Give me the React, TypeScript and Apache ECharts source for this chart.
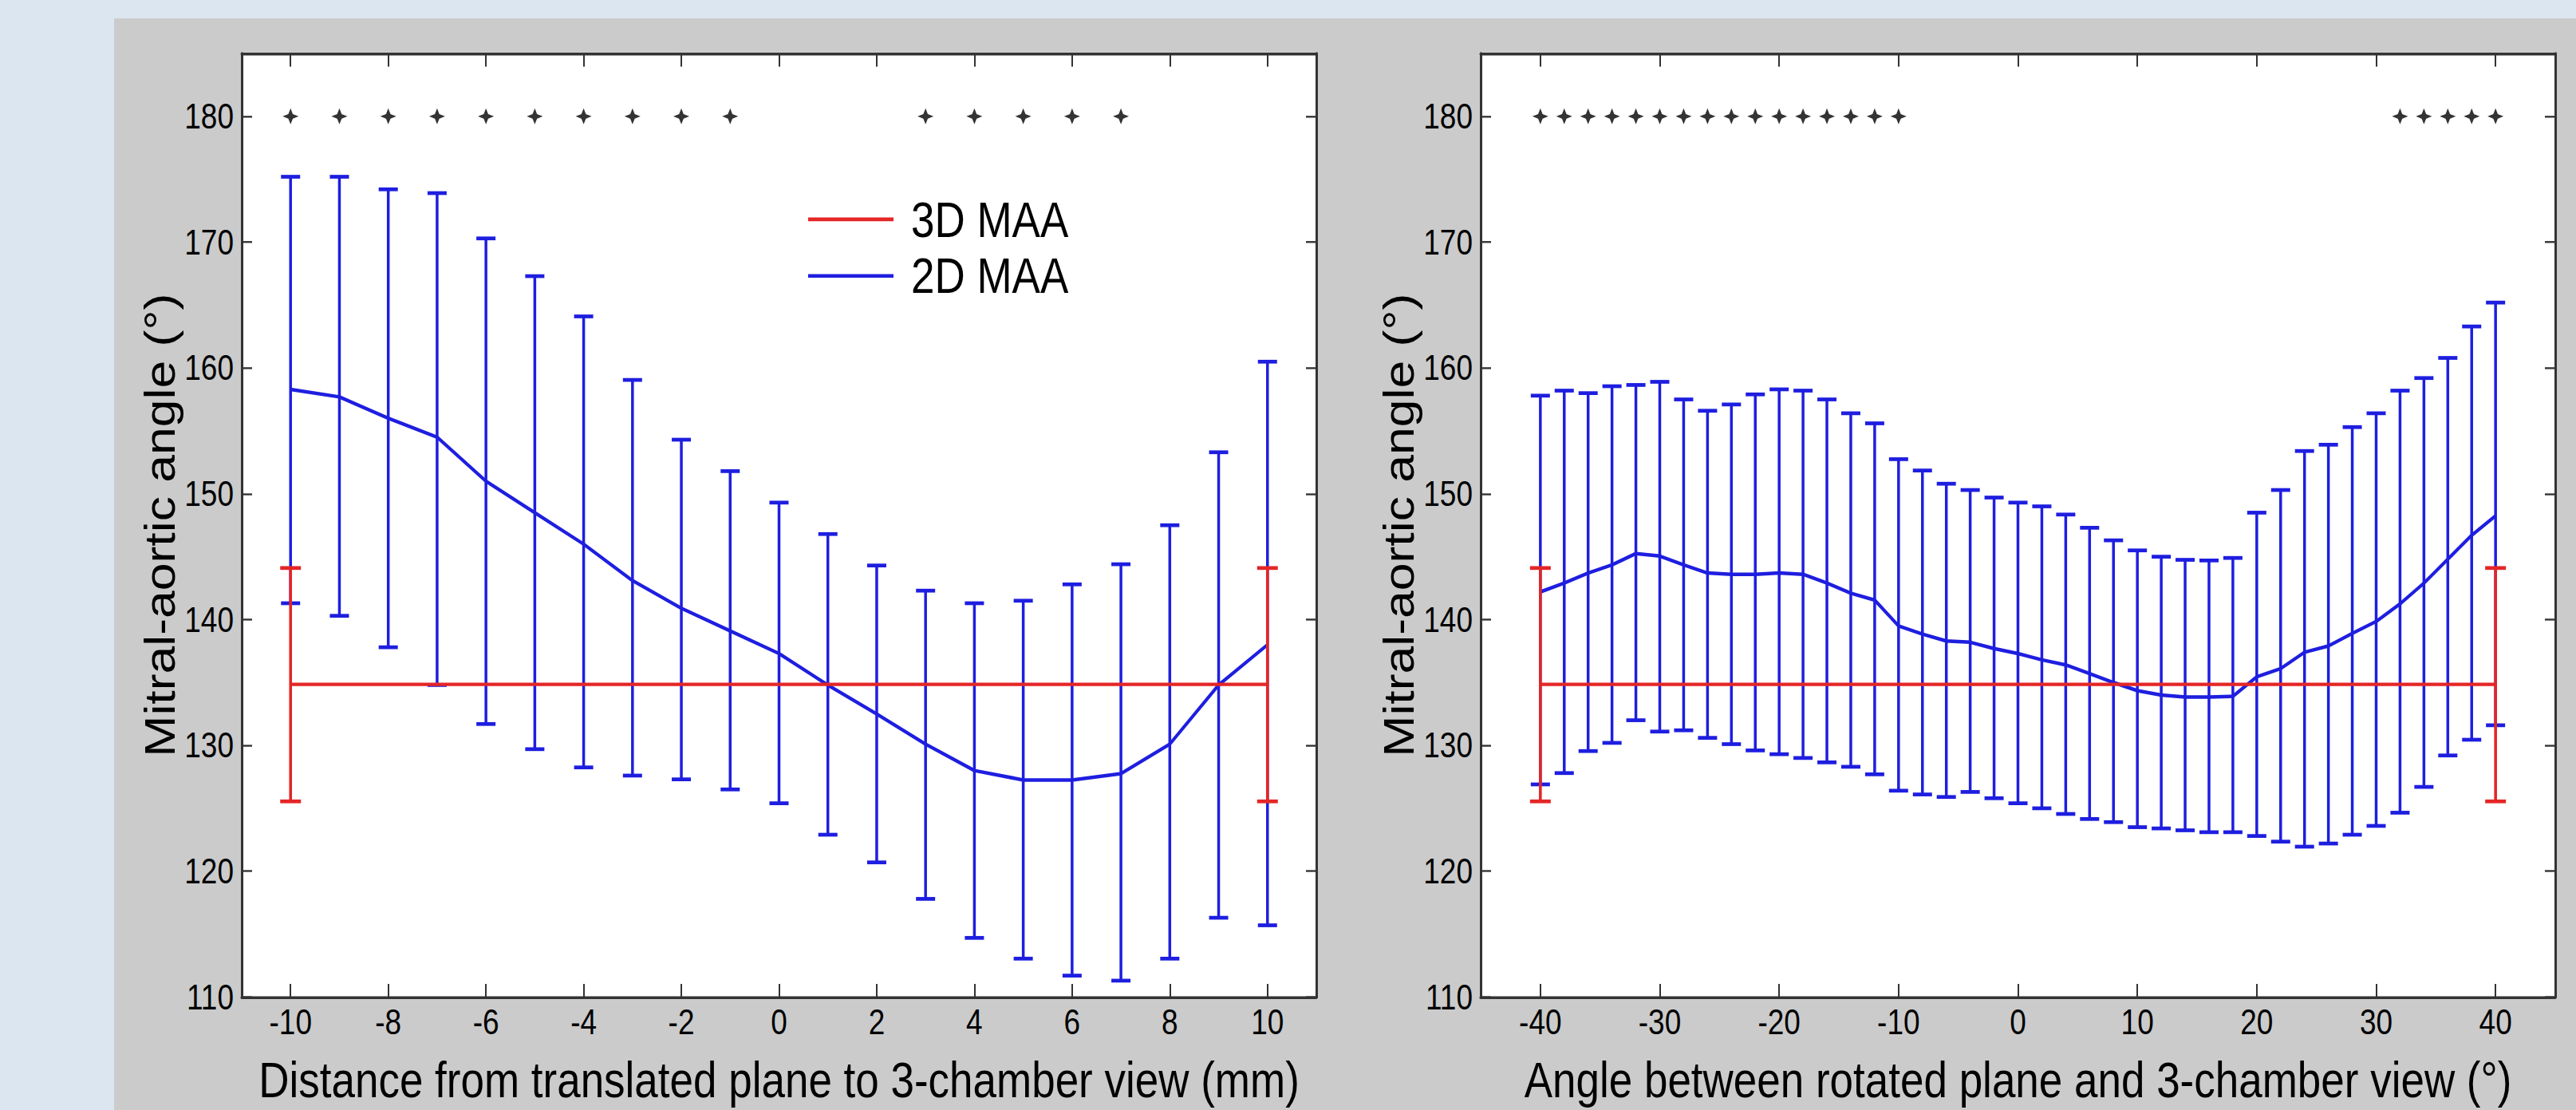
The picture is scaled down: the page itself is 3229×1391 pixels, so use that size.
import React, { useEffect, useRef } from "react";
import * as echarts from "echarts";

// ---------- data ----------
const distX = [-10, -9, -8, -7, -6, -5, -4, -3, -2, -1, 0, 1, 2, 3, 4, 5, 6, 7, 8, 9, 10];
const distMean = [158.3, 157.7, 156.0, 154.5, 151.0, 148.5, 146.0, 143.1, 140.9, 139.1, 137.3, 134.8, 132.5, 130.1, 128.0, 127.25, 127.25, 127.75, 130.1, 134.8, 138.0];
const distUpper = [175.2, 175.2, 174.2, 173.9, 170.3, 167.3, 164.1, 159.05, 154.3, 151.8, 149.3, 146.8, 144.3, 142.3, 141.3, 141.5, 142.8, 144.4, 147.5, 153.3, 160.5];
const distLower = [141.3, 140.3, 137.8, 134.8, 131.7, 129.7, 128.25, 127.6, 127.3, 126.5, 125.4, 122.9, 120.7, 117.8, 114.7, 113.05, 111.7, 111.3, 113.05, 116.3, 115.7];
const distStarX = [-10, -9, -8, -7, -6, -5, -4, -3, -2, -1, 3, 4, 5, 6, 7];

const angleX = [-40, -38, -36, -34, -32, -30, -28, -26, -24, -22, -20, -18, -16, -14, -12, -10, -8, -6, -4, -2, 0, 2, 4, 6, 8, 10, 12, 14, 16, 18, 20, 22, 24, 26, 28, 30, 32, 34, 36, 38, 40];
const angleMean = [142.2, 142.9, 143.7, 144.35, 145.25, 145.05, 144.35, 143.7, 143.6, 143.6, 143.7, 143.6, 142.9, 142.1, 141.55, 139.5, 138.85, 138.3, 138.2, 137.7, 137.3, 136.8, 136.4, 135.7, 135.0, 134.35, 134.0, 133.85, 133.85, 133.9, 135.45, 136.1, 137.4, 137.9, 138.9, 139.85, 141.25, 142.9, 144.8, 146.7, 148.25];
const angleUpper = [157.8, 158.2, 158.0, 158.55, 158.65, 158.9, 157.5, 156.6, 157.1, 157.9, 158.3, 158.2, 157.5, 156.4, 155.6, 152.75, 151.85, 150.8, 150.3, 149.7, 149.3, 149.0, 148.35, 147.3, 146.3, 145.5, 145.0, 144.75, 144.7, 144.9, 148.5, 150.3, 153.4, 153.9, 155.3, 156.4, 158.2, 159.2, 160.8, 163.3, 165.2];
const angleLower = [126.9, 127.8, 129.55, 130.2, 132.0, 131.1, 131.2, 130.6, 130.1, 129.6, 129.3, 129.0, 128.65, 128.3, 127.7, 126.4, 126.1, 125.9, 126.3, 125.8, 125.4, 125.0, 124.55, 124.15, 123.9, 123.5, 123.4, 123.25, 123.1, 123.1, 122.8, 122.35, 121.95, 122.2, 122.9, 123.6, 124.65, 126.7, 129.2, 130.45, 131.6];
const angleStarX = [-40, -38, -36, -34, -32, -30, -28, -26, -24, -22, -20, -18, -16, -14, -12, -10, 32, 34, 36, 38, 40];

const maa3DDistX = [-10, 10];
const maa3DAngleX = [-40, 40];
const maa3DMean = [134.85, 134.85];
const maa3DUpper = [144.1, 144.1];
const maa3DLower = [125.55, 125.55];

const starLevel = 180;
const yTicks = [110, 120, 130, 140, 150, 160, 170, 180];
const distTicks = [-10, -8, -6, -4, -2, 0, 2, 4, 6, 8, 10];
const angleTicks = [-40, -30, -20, -10, 0, 10, 20, 30, 40];
const distRange = [-11, 11];
const angleRange = [-45, 45];
const yRange = [110, 185];

const seriesNames = ["3D MAA", "2D MAA"];
const yTitle = "Mitral-aortic angle (°)";
const distTitle = "Distance from translated plane to 3-chamber view (mm)";
const angleTitle = "Angle between rotated plane and 3-chamber view (°)";

// ---------- layout / style ----------
const S = 1.18; // vertical stretch of the reference
const W = 3229;
const H = 1391 / S;
const FONT = "'Liberation Sans', Arial, Helvetica, sans-serif";
const BLUE = "#1e1ee0";
const RED = "#e42626";
const AXIS = "#333333";
const STAR = "path://M0,-10 L2.8,-2.8 L10,0 L2.8,2.8 L0,10 L-2.8,2.8 L-10,0 L-2.8,-2.8 Z";

const plotTop = 67 / S;
const plotH = (1253 - 67) / S;

function errorBars(color: string, capW: number, lw: number, capLw: number) {
  return (_params: any, api: any) => {
    const x = api.value(0);
    const lo = api.coord([x, api.value(1)]);
    const hi = api.coord([x, api.value(2)]);
    const h = capW / 2;
    return {
      type: "group",
      children: [
        { type: "line", shape: { x1: hi[0], y1: hi[1], x2: lo[0], y2: lo[1] }, style: { stroke: color, lineWidth: lw } },
        { type: "line", shape: { x1: hi[0] - h, y1: hi[1], x2: hi[0] + h, y2: hi[1] }, style: { stroke: color, lineWidth: capLw } },
        { type: "line", shape: { x1: lo[0] - h, y1: lo[1], x2: lo[0] + h, y2: lo[1] }, style: { stroke: color, lineWidth: capLw } },
      ],
    };
  };
}

function xAxisDef(grid: number, range: number[], ticks: number[], pos: "bottom" | "top", name?: string) {
  const main = pos === "bottom";
  return {
    type: "value",
    gridIndex: grid,
    position: pos,
    min: range[0],
    max: range[1],
    axisLine: { show: true, onZero: false, lineStyle: { color: AXIS, width: 3 } },
    axisTick: { show: true, inside: true, length: 14, customValues: ticks, lineStyle: { color: AXIS, width: 2 } },
    axisLabel: {
      show: main,
      customValues: ticks,
      fontSize: 37,
      fontFamily: FONT,
      color: "#000",
      margin: 8,
    },
    splitLine: { show: false },
    name: main ? name : undefined,
    nameLocation: "middle",
    nameGap: 62,
    nameTextStyle: { fontSize: 53, fontFamily: FONT, color: "#000" },
  };
}

function yAxisDef(grid: number, pos: "left" | "right") {
  const main = pos === "left";
  return {
    type: "value",
    gridIndex: grid,
    position: pos,
    min: yRange[0],
    max: yRange[1],
    axisLine: { show: true, onZero: false, lineStyle: { color: AXIS, width: 3 } },
    axisTick: { show: true, inside: true, length: 13, customValues: yTicks, lineStyle: { color: AXIS, width: 2 } },
    axisLabel: {
      show: main,
      customValues: yTicks,
      fontSize: 37,
      fontFamily: FONT,
      color: "#000",
      margin: 10,
    },
    splitLine: { show: false },
    name: main ? yTitle : undefined,
    nameLocation: "middle",
    nameGap: 76,
    nameTextStyle: { fontSize: 53, fontFamily: FONT, color: "#000" },
  };
}

function panelSeries(axisIdx: number, xs: number[], mean: number[], upper: number[], lower: number[], starXs: number[], redX: number[]) {
  return [
    {
      type: "custom",
      name: "2D bars " + axisIdx,
      xAxisIndex: axisIdx,
      yAxisIndex: axisIdx,
      renderItem: errorBars(BLUE, 24, 3.5, 4),
      data: xs.map((x, i) => [x, lower[i], upper[i]]),
      encode: { x: 0, y: [1, 2] },
      z: 2,
      silent: true,
    },
    {
      type: "line",
      name: seriesNames[1],
      xAxisIndex: axisIdx,
      yAxisIndex: axisIdx,
      data: xs.map((x, i) => [x, mean[i]]),
      showSymbol: false,
      symbol: "none",
      itemStyle: { color: BLUE },
      lineStyle: { color: BLUE, width: 3.8 },
      z: 3,
      silent: true,
    },
    {
      type: "custom",
      name: "3D bars " + axisIdx,
      xAxisIndex: axisIdx,
      yAxisIndex: axisIdx,
      renderItem: errorBars(RED, 26, 3.6, 4),
      data: redX.map((x, i) => [x, maa3DLower[i], maa3DUpper[i]]),
      encode: { x: 0, y: [1, 2] },
      z: 4,
      silent: true,
    },
    {
      type: "line",
      name: seriesNames[0],
      xAxisIndex: axisIdx,
      yAxisIndex: axisIdx,
      data: redX.map((x, i) => [x, maa3DMean[i]]),
      showSymbol: false,
      symbol: "none",
      itemStyle: { color: RED },
      lineStyle: { color: RED, width: 3.6 },
      z: 5,
      silent: true,
    },
    {
      type: "scatter",
      name: "stars " + axisIdx,
      xAxisIndex: axisIdx,
      yAxisIndex: axisIdx,
      data: starXs.map((x) => [x, starLevel]),
      symbol: STAR,
      symbolSize: [20, 17],
      itemStyle: { color: "#000" },
      z: 6,
      silent: true,
    },
  ];
}

export default function App() {
  const ref = useRef<HTMLDivElement>(null);
  useEffect(() => {
    if (!ref.current) return;
    const chart = echarts.init(ref.current, null, { renderer: "svg", width: W, height: H });
    const option: any = {
      animation: false,
      backgroundColor: "#dce6f1",
      textStyle: { fontFamily: FONT },
      graphic: {
        elements: [
          {
            type: "rect",
            z: -10,
            shape: { x: 143, y: 23 / S, width: W - 143, height: H - 23 / S },
            style: { fill: "#cbcbcb" },
            silent: true,
          },
        ],
      },
      grid: [
        { left: 303, top: plotTop, width: 1347, height: plotH, show: true, backgroundColor: "#ffffff", borderWidth: 0, containLabel: false },
        { left: 1856, top: plotTop, width: 1347, height: plotH, show: true, backgroundColor: "#ffffff", borderWidth: 0, containLabel: false },
      ],
      xAxis: [
        xAxisDef(0, distRange, distTicks, "bottom", distTitle),
        xAxisDef(0, distRange, distTicks, "top"),
        xAxisDef(1, angleRange, angleTicks, "bottom", angleTitle),
        xAxisDef(1, angleRange, angleTicks, "top"),
      ],
      yAxis: [yAxisDef(0, "left"), yAxisDef(0, "right"), yAxisDef(1, "left"), yAxisDef(1, "right")],
      legend: {
        data: [
          { name: seriesNames[0], icon: "rect" },
          { name: seriesNames[1], icon: "rect" },
        ],
        orient: "vertical",
        left: 1013,
        top: 203,
        itemWidth: 107,
        itemHeight: 4,
        itemGap: 0,
        selectedMode: false,
        padding: 0,
        textStyle: { fontSize: 53, lineHeight: 60, fontFamily: FONT, color: "#000", padding: [0, 0, 0, 17] },
      },
      series: [
        ...panelSeries(0, distX, distMean, distUpper, distLower, distStarX, maa3DDistX),
        ...panelSeries(2, angleX, angleMean, angleUpper, angleLower, angleStarX, maa3DAngleX),
      ],
    };
    chart.setOption(option);
    return () => chart.dispose();
  }, []);
  return (
    <div
      ref={ref}
      style={{
        position: "fixed",
        left: 0,
        top: 0,
        width: W,
        height: H,
        transform: `scaleY(${S})`,
        transformOrigin: "0 0",
      }}
    />
  );
}
